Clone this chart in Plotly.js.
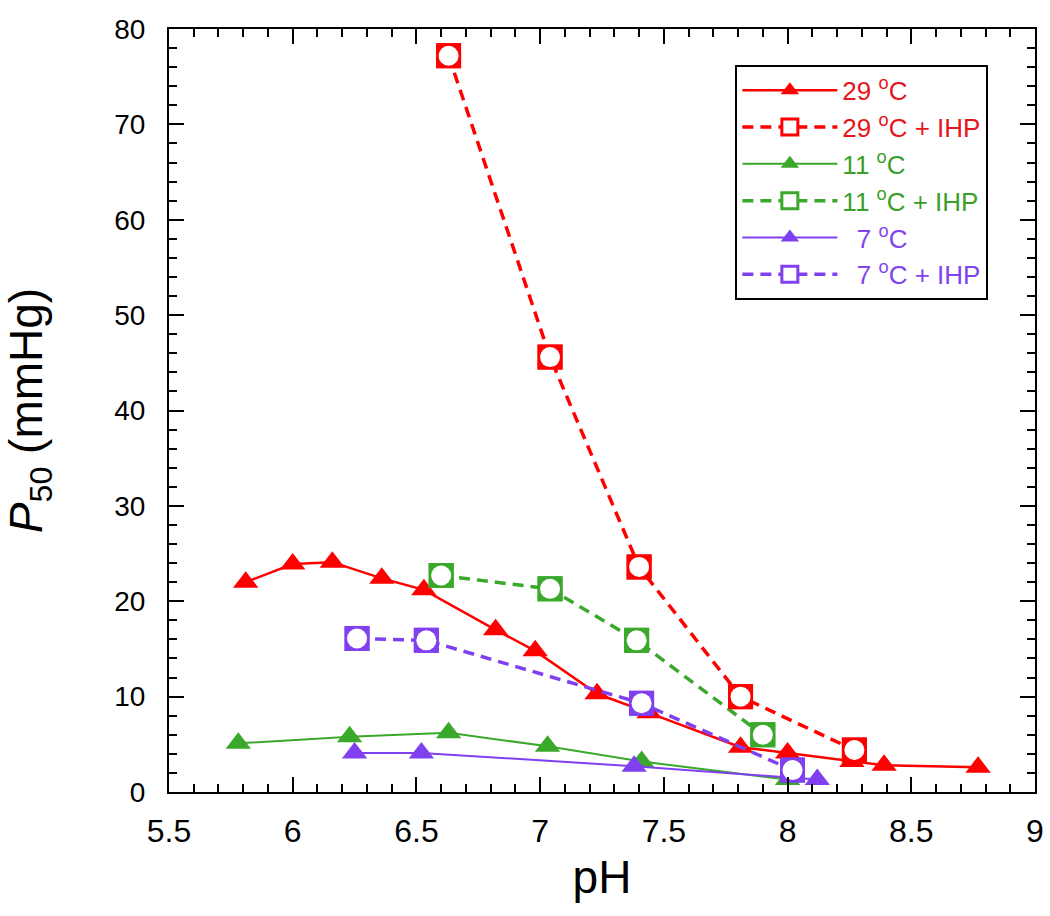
<!DOCTYPE html>
<html><head><meta charset="utf-8">
<script src="https://cdn.plot.ly/plotly-3.0.1.min.js"></script>
<style>html,body{margin:0;padding:0;background:#fff}</style>
</head><body>
<div id="chart" style="width:1050px;height:916px"></div>
<script>
// 29 °C
const ph29 = [5.81, 6.00, 6.16, 6.36, 6.53, 6.82, 6.98, 7.23, 7.44, 7.81, 8.00, 8.26, 8.39, 8.77];
const p29  = [22.0, 23.9, 24.1, 22.4, 21.2, 17.0, 14.8, 10.3, 8.3, 4.7, 4.1, 3.2, 2.8, 2.6];
// 29 °C + IHP
const ph29i = [6.63, 7.04, 7.40, 7.81, 8.27];
const p29i  = [77.2, 45.6, 23.6, 10.0, 4.4];
// 11 °C
const ph11 = [5.78, 6.23, 6.63, 7.03, 7.41, 8.00];
const p11  = [5.1, 5.8, 6.2, 4.8, 3.2, 1.3];
// 11 °C + IHP
const ph11i = [6.60, 7.04, 7.39, 7.90];
const p11i  = [22.7, 21.3, 15.9, 6.0];
// 7 °C
const ph7 = [6.25, 6.52, 7.38, 8.12];
const p7  = [4.1, 4.1, 2.7, 1.3];
// 7 °C + IHP
const ph7i = [6.26, 6.54, 7.41, 8.02];
const p7i  = [16.1, 15.9, 9.3, 2.3];

const seriesNames = ['29 <sup>o</sup>C', '29 <sup>o</sup>C + IHP', '11 <sup>o</sup>C', '11 <sup>o</sup>C + IHP',
                     '\u00a0\u00a07 <sup>o</sup>C', '\u00a0\u00a07 <sup>o</sup>C + IHP'];

const RED = '#ff0000', GREEN = '#3aa82a', PURPLE = '#8040f0';
const TXT_RED = '#e8141c', TXT_GREEN = '#3aa02a', TXT_PURPLE = '#7f44ee';
const FONT = 'Liberation Sans, Arial, sans-serif';

function label(i, c){ return '<span style="color:' + c + '">' + seriesNames[i] + '</span>'; }
function solid(x, y, name, color, lw){
  return {x, y, name, type:'scatter', mode:'lines+markers',
    line:{color, width:lw}, marker:{symbol:'triangle-up', size:22, color}};
}
function ihpLegend(x, y, name, color){
  return {x, y, name, type:'scatter', mode:'lines+markers',
    line:{color, width:3.5, dash:'11px,7px'},
    marker:{symbol:'square', size:22, color:'#ffffff', line:{color, width:3}}};
}
function ihpSquare(x, y, color){
  return {x, y, type:'scatter', mode:'markers', showlegend:false, hoverinfo:'skip',
    marker:{symbol:'square', size:25, color}};
}
function ihpHole(x, y){
  return {x, y, type:'scatter', mode:'markers', showlegend:false, hoverinfo:'skip',
    marker:{symbol:'circle', size:20, color:'#ffffff'}};
}

const data = [
  solid(ph29, p29, label(0, TXT_RED), RED, 2.5),
  ihpLegend(ph29i, p29i, label(1, TXT_RED), RED),
  solid(ph11, p11, label(2, TXT_GREEN), GREEN, 2),
  ihpLegend(ph11i, p11i, label(3, TXT_GREEN), GREEN),
  solid(ph7, p7, label(4, TXT_PURPLE), PURPLE, 2),
  ihpLegend(ph7i, p7i, label(5, TXT_PURPLE), PURPLE),
  ihpSquare(ph29i, p29i, RED), ihpHole(ph29i, p29i),
  ihpSquare(ph11i, p11i, GREEN), ihpHole(ph11i, p11i),
  ihpSquare(ph7i, p7i, PURPLE), ihpHole(ph7i, p7i)
];

const axisCommon = {
  showgrid:false, zeroline:false, showline:true, linecolor:'#000', linewidth:2,
  mirror:'ticks', ticks:'inside', ticklen:15, tickwidth:2, tickcolor:'#000'
};

const layout = {
  width:1050, height:916,
  margin:{l:169, r:15, t:29, b:124},
  paper_bgcolor:'#fff', plot_bgcolor:'#fff',
  font:{family:FONT, color:'#000'},
  showlegend:true,
  legend:{x:0.654, y:0.953, xanchor:'left', yanchor:'top',
    bgcolor:'#fff', bordercolor:'#000', borderwidth:2,
    font:{family:FONT, size:26}, itemwidth:95, tracegroupgap:0, traceorder:'normal'},
  xaxis:Object.assign({}, axisCommon, {
    range:[5.5, 9], tick0:5.5, dtick:0.5,
    tickfont:{family:FONT, size:32, color:'#000'}, ticklabelstandoff:10,
    minor:{dtick:0.1, ticks:'inside', ticklen:8, tickwidth:2, tickcolor:'#000', showgrid:false},
    title:{text:'pH', font:{family:FONT, size:46, color:'#000'}, standoff:12}
  }),
  yaxis:Object.assign({}, axisCommon, {
    range:[0, 80], tick0:0, dtick:10,
    tickfont:{family:FONT, size:28, color:'#000'}, ticklabelstandoff:16,
    minor:{dtick:2, ticks:'inside', ticklen:8, tickwidth:2, tickcolor:'#000', showgrid:false},
    title:{text:'<i>P</i><sub>50</sub> (mmHg)', font:{family:FONT, size:46, color:'#000'}, standoff:58}
  })
};

Plotly.newPlot('chart', data, layout, {displayModeBar:false, staticPlot:true});
</script>
</body></html>
